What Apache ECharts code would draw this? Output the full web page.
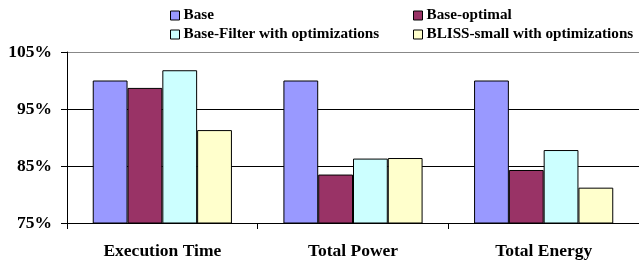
<!DOCTYPE html>
<html>
<head>
<meta charset="utf-8">
<script src="https://cdn.jsdelivr.net/npm/echarts@6/dist/echarts.min.js"></script>
<style>html,body{margin:0;padding:0;background:#fff}#c{width:639px;height:263px}</style>
</head>
<body>
<div id="c"></div>
<script>
const categories = ['Execution Time', 'Total Power', 'Total Energy'];
const seriesNames = ['Base', 'Base-optimal', 'Base-Filter with optimizations', 'BLISS-small with optimizations'];
const base = [100, 100, 100];
const baseOptimal = [98.7, 83.5, 84.3];
const baseFilter = [101.8, 86.3, 87.8];
const blissSmall = [91.3, 86.4, 81.2];
const yTicks = [75, 85, 95, 105];
const colors = ['#9999FF', '#993366', '#CCFFFF', '#FFFFCC'];

const FONT = '"Liberation Serif", "Times New Roman", serif';
const values = [base, baseOptimal, baseFilter, blissSmall];

const legendPos = [
  {left: 170, top: 7.5},
  {left: 413, top: 7.5},
  {left: 170, top: 26.5},
  {left: 413, top: 26.5}
];

const chart = echarts.init(document.getElementById('c'), null, {renderer: 'canvas'});
chart.setOption({
  animation: false,
  backgroundColor: '#fff',
  color: colors,
  legend: seriesNames.map((n, i) => ({
    data: [n],
    left: legendPos[i].left,
    top: legendPos[i].top,
    padding: 0,
    itemWidth: 9,
    itemHeight: 9,
    icon: 'rect',
    itemStyle: {borderColor: '#000', borderWidth: 1},
    textStyle: {fontFamily: FONT, fontWeight: 'bold', fontSize: 15.2, color: '#000', lineHeight: 16, padding: [0, 0, 0, -1]},
    selectedMode: false
  })),
  grid: {left: 67, right: 0, top: 52, bottom: 40},
  xAxis: {
    type: 'category',
    data: categories,
    axisLine: {lineStyle: {color: '#000', width: 1}},
    axisTick: {show: true, length: 6, lineStyle: {color: '#000'}},
    axisLabel: {fontFamily: FONT, fontWeight: 'bold', fontSize: 17.5, color: '#000', margin: 19}
  },
  yAxis: {
    type: 'value',
    min: yTicks[0],
    max: yTicks[yTicks.length - 1],
    interval: 10,
    axisLine: {show: true, lineStyle: {color: '#000', width: 1}},
    axisTick: {show: true, length: 6, lineStyle: {color: '#000'}},
    axisLabel: {fontFamily: FONT, fontWeight: 'bold', fontSize: 17.5, color: '#000', margin: 15, formatter: '{value}%'},
    splitLine: {show: true, lineStyle: {color: ['#000', '#000', '#000', '#888'], width: 1}}
  },
  series: seriesNames.map((n, i) => ({
    name: n,
    type: 'bar',
    data: values[i],
    barGap: '0%',
    barCategoryGap: '27%',
    itemStyle: {color: colors[i], borderColor: '#000', borderWidth: 1}
  }))
});
</script>
</body>
</html>
